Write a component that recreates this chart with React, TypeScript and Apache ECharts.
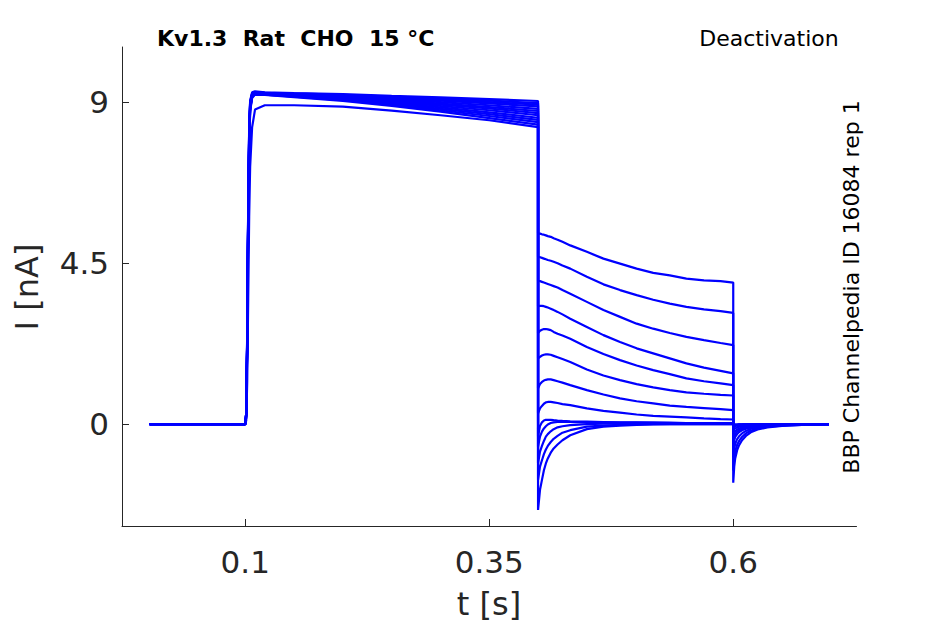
import React, { useEffect, useRef } from "react";
import * as echarts from "echarts";

const FONT = '"DejaVu Sans", sans-serif';

const X_TICKS = [0.1, 0.35, 0.6];
const Y_TICKS = [0, 4.5, 9];

const TRACE_NAMES = ["s1", "s2", "s3", "s4", "s5", "s6", "s7", "s8", "s9", "s10", "s11", "s12", "s13"];

// times (s) of the sampled points in each protocol segment
const T_ACT = [0.002, 0.1, 0.101, 0.102, 0.103, 0.104, 0.105, 0.107, 0.11, 0.12, 0.15, 0.2, 0.25, 0.3, 0.35, 0.4];
const T_TAIL = [0.4, 0.402, 0.404, 0.406, 0.408, 0.41, 0.413, 0.416, 0.42, 0.425, 0.433, 0.45, 0.467, 0.484, 0.501, 0.518, 0.535, 0.552, 0.57, 0.587, 0.6];
const T_RET = [0.6, 0.601, 0.602, 0.604, 0.606, 0.609, 0.613, 0.618, 0.625, 0.635, 0.65, 0.67, 0.698];

// current (nA) during the activating step, one row per sweep
const ACTIVATION = [
  [0, 0, 0.3, 2.6, 6.1, 8.3, 9.05, 9.28, 9.31, 9.28, 9.26, 9.23, 9.18, 9.14, 9.09, 9.04],
  [0, 0, 0.3, 2.5, 6.0, 8.2, 9.0, 9.25, 9.29, 9.27, 9.25, 9.21, 9.16, 9.11, 9.05, 8.98],
  [0, 0, 0.3, 2.5, 6.0, 8.2, 9.0, 9.25, 9.28, 9.27, 9.24, 9.2, 9.14, 9.08, 9.01, 8.94],
  [0, 0, 0.3, 2.4, 5.9, 8.1, 8.95, 9.22, 9.27, 9.26, 9.23, 9.18, 9.12, 9.05, 8.97, 8.89],
  [0, 0, 0.3, 2.4, 5.9, 8.1, 8.95, 9.22, 9.27, 9.25, 9.22, 9.17, 9.1, 9.01, 8.92, 8.82],
  [0, 0, 0.3, 2.4, 5.8, 8.0, 8.9, 9.2, 9.26, 9.25, 9.21, 9.15, 9.07, 8.97, 8.87, 8.76],
  [0, 0, 0.3, 2.3, 5.8, 8.0, 8.9, 9.2, 9.26, 9.24, 9.2, 9.13, 9.04, 8.94, 8.83, 8.7],
  [0, 0, 0.3, 2.3, 5.7, 7.9, 8.85, 9.18, 9.25, 9.24, 9.19, 9.12, 9.02, 8.9, 8.78, 8.64],
  [0, 0, 0.3, 2.3, 5.7, 7.9, 8.85, 9.18, 9.25, 9.23, 9.18, 9.1, 8.99, 8.86, 8.72, 8.57],
  [0, 0, 0.2, 2.2, 5.6, 7.8, 8.8, 9.15, 9.24, 9.22, 9.17, 9.08, 8.96, 8.82, 8.67, 8.51],
  [0, 0, 0.2, 2.2, 5.6, 7.8, 8.8, 9.15, 9.23, 9.22, 9.16, 9.06, 8.93, 8.78, 8.62, 8.45],
  [0, 0, 0.2, 2.1, 5.5, 7.7, 8.75, 9.12, 9.22, 9.21, 9.15, 9.04, 8.9, 8.74, 8.56, 8.38],
  [0, 0, 0.1, 1.2, 3.5, 5.8, 7.2, 8.3, 8.8, 8.92, 8.92, 8.88, 8.77, 8.64, 8.5, 8.31],
];

// tail currents (nA) during the deactivating step
const TAIL = [
  [5.33, 5.33, 5.31, 5.3, 5.28, 5.26, 5.24, 5.2, 5.16, 5.1, 5.0, 4.82, 4.63, 4.49, 4.35, 4.23, 4.16, 4.07, 4.02, 4.0, 3.96],
  [4.68, 4.67, 4.65, 4.63, 4.61, 4.59, 4.57, 4.54, 4.5, 4.44, 4.35, 4.12, 3.91, 3.75, 3.61, 3.48, 3.37, 3.28, 3.21, 3.16, 3.11],
  [4.01, 4.0, 3.98, 3.96, 3.94, 3.92, 3.89, 3.86, 3.82, 3.75, 3.65, 3.42, 3.19, 3.0, 2.81, 2.67, 2.55, 2.44, 2.35, 2.27, 2.21],
  [3.3, 3.31, 3.31, 3.3, 3.28, 3.26, 3.23, 3.19, 3.14, 3.07, 2.95, 2.72, 2.49, 2.3, 2.12, 1.98, 1.84, 1.7, 1.58, 1.49, 1.42],
  [2.55, 2.61, 2.64, 2.66, 2.66, 2.65, 2.63, 2.58, 2.53, 2.48, 2.39, 2.16, 1.96, 1.79, 1.64, 1.51, 1.4, 1.28, 1.2, 1.14, 1.09],
  [1.84, 1.88, 1.92, 1.94, 1.95, 1.95, 1.94, 1.91, 1.87, 1.82, 1.74, 1.53, 1.36, 1.23, 1.12, 1.03, 0.95, 0.89, 0.85, 0.82, 0.8],
  [1.0, 1.12, 1.18, 1.22, 1.24, 1.25, 1.25, 1.23, 1.2, 1.16, 1.09, 0.95, 0.83, 0.72, 0.64, 0.58, 0.52, 0.48, 0.45, 0.42, 0.39],
  [0.3, 0.44, 0.51, 0.57, 0.61, 0.62, 0.62, 0.61, 0.59, 0.56, 0.53, 0.44, 0.37, 0.32, 0.27, 0.23, 0.21, 0.19, 0.16, 0.14, 0.13],
  [-0.35, -0.05, 0.05, 0.1, 0.12, 0.12, 0.12, 0.11, 0.1, 0.09, 0.08, 0.07, 0.06, 0.05, 0.05, 0.04, 0.04, 0.03, 0.03, 0.03, 0.03],
  [-0.63, -0.35, -0.21, -0.12, -0.06, -0.01, 0.03, 0.05, 0.06, 0.06, 0.06, 0.05, 0.05, 0.04, 0.04, 0.04, 0.03, 0.03, 0.03, 0.03, 0.03],
  [-1.1, -0.77, -0.61, -0.47, -0.35, -0.28, -0.2, -0.14, -0.09, -0.06, -0.03, 0.0, 0.01, 0.01, 0.01, 0.01, 0.01, 0.01, 0.01, 0.01, 0.01],
  [-1.56, -1.19, -1.01, -0.84, -0.71, -0.61, -0.5, -0.41, -0.33, -0.24, -0.17, -0.07, -0.04, -0.02, -0.01, 0, 0, 0, 0, 0, 0],
  [-2.4, -1.84, -1.56, -1.29, -1.1, -0.96, -0.8, -0.68, -0.57, -0.45, -0.31, -0.14, -0.07, -0.04, -0.02, -0.01, 0, 0, 0, 0, 0],
];

// currents (nA) after returning to the holding potential
const RETURN = [
  [-1.64, -1.19, -0.96, -0.73, -0.59, -0.45, -0.33, -0.23, -0.15, -0.09, -0.05, -0.02, 0],
  [-1.3, -0.94, -0.76, -0.58, -0.47, -0.36, -0.26, -0.18, -0.12, -0.07, -0.04, -0.02, 0],
  [-0.93, -0.68, -0.55, -0.42, -0.34, -0.26, -0.19, -0.13, -0.09, -0.05, -0.03, -0.01, 0],
  [-0.62, -0.45, -0.36, -0.28, -0.22, -0.17, -0.13, -0.09, -0.06, -0.03, -0.02, -0.01, 0],
  [-0.48, -0.35, -0.28, -0.21, -0.17, -0.13, -0.1, -0.07, -0.04, -0.03, -0.01, 0, 0],
  [-0.34, -0.25, -0.2, -0.15, -0.12, -0.09, -0.07, -0.05, -0.03, -0.02, -0.01, 0, 0],
  [-0.2, -0.14, -0.12, -0.09, -0.07, -0.05, -0.04, -0.03, -0.02, -0.01, 0, 0, 0],
  [-0.1, -0.07, -0.06, -0.04, -0.04, -0.03, -0.02, -0.01, -0.01, 0, 0, 0, 0],
  [-0.05, -0.03, -0.02, -0.02, -0.01, -0.01, 0, 0, 0, 0, 0, 0, 0],
  [-0.05, -0.03, -0.02, -0.02, -0.01, -0.01, 0, 0, 0, 0, 0, 0, 0],
  [-0.05, -0.03, -0.02, -0.02, -0.01, -0.01, 0, 0, 0, 0, 0, 0, 0],
  [-0.05, -0.03, -0.02, -0.02, -0.01, -0.01, 0, 0, 0, 0, 0, 0, 0],
  [-0.05, -0.03, -0.02, -0.02, -0.01, -0.01, 0, 0, 0, 0, 0, 0, 0],
];

const TITLE = "Kv1.3  Rat  CHO  15 °C";
const PROTOCOL = "Deactivation";
const SOURCE = "BBP Channelpedia ID 16084 rep 1";
const X_NAME = "t [s]";
const Y_NAME = "I [nA]";

const AXIS_COLOR = "#262626";

export default function App() {
  const ref = useRef<HTMLDivElement>(null);

  useEffect(() => {
    document.body.style.margin = "0";
    const chart = echarts.init(ref.current as HTMLDivElement, null, { renderer: "svg" });

    const series = TRACE_NAMES.map((name, k) => ({
      type: "line",
      name,
      data: [
        ...T_ACT.map((t, i) => [t, ACTIVATION[k][i]]),
        ...T_TAIL.map((t, i) => [t, TAIL[k][i]]),
        ...T_RET.map((t, i) => [t, RETURN[k][i]]),
      ],
      symbol: "none",
      showSymbol: false,
      silent: true,
      lineStyle: { color: "#0000ff", width: 2.2 },
    }));

    const textEl = (text: string, x: number, y: number, font: string, fill: string, rotation = 0) => ({
      type: "text",
      x,
      y,
      rotation,
      silent: true,
      style: {
        text,
        font,
        fill,
        align: "center",
        verticalAlign: "middle",
        textAlign: "center",
        textVerticalAlign: "middle",
      },
    });

    chart.setOption({
      animation: false,
      grid: { left: 122, right: 88.5, top: 47, bottom: 98 },
      xAxis: {
        type: "value",
        min: -0.0263,
        max: 0.7263,
        axisLine: { show: true, onZero: false, lineStyle: { color: AXIS_COLOR, width: 1 } },
        axisTick: { show: true, inside: true, length: 7, customValues: X_TICKS, lineStyle: { color: AXIS_COLOR, width: 1 } },
        axisLabel: {
          customValues: X_TICKS,
          formatter: (v: number) => String(v),
          fontSize: 31,
          fontFamily: FONT,
          color: AXIS_COLOR,
          margin: 20,
        },
        splitLine: { show: false },
      },
      yAxis: {
        type: "value",
        min: -2.85,
        max: 10.55,
        axisLine: { show: true, onZero: false, lineStyle: { color: AXIS_COLOR, width: 1 } },
        axisTick: { show: true, inside: true, length: 7, customValues: Y_TICKS, lineStyle: { color: AXIS_COLOR, width: 1 } },
        axisLabel: {
          customValues: Y_TICKS,
          formatter: (v: number) => String(v),
          fontSize: 31,
          fontFamily: FONT,
          color: AXIS_COLOR,
          margin: 13,
        },
        splitLine: { show: false },
      },
      graphic: [
        {
          type: "text",
          x: 157,
          y: 38,
          silent: true,
          style: {
            text: TITLE,
            font: `bold 22px ${FONT}`,
            fill: "#000",
            align: "left",
            verticalAlign: "middle",
            textAlign: "left",
            textVerticalAlign: "middle",
          },
        },
        textEl(PROTOCOL, 769, 38, `22px ${FONT}`, "#000"),
        textEl(SOURCE, 851, 287, `22px ${FONT}`, "#000", Math.PI / 2),
        textEl(X_NAME, 489, 604, `32px ${FONT}`, AXIS_COLOR),
        textEl(Y_NAME, 27, 287, `32px ${FONT}`, AXIS_COLOR, Math.PI / 2),
      ],
      series,
    });

    return () => chart.dispose();
  }, []);

  return <div ref={ref} style={{ width: 945, height: 624 }} />;
}
